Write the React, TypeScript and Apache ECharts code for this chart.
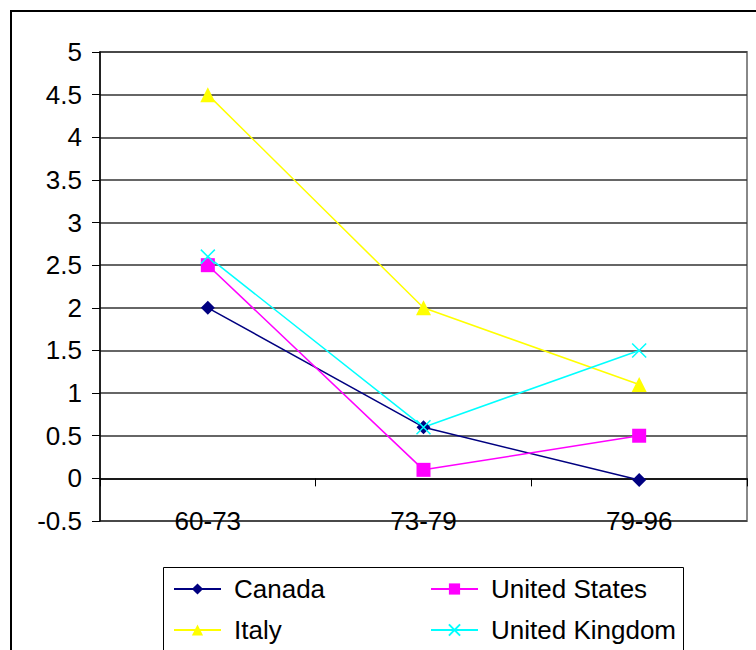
import React, { useEffect, useRef } from "react";
import * as echarts from "echarts";

const periods = ["60-73", "73-79", "79-96"];
const canada = [2.0, 0.6, -0.02];
const unitedStates = [2.5, 0.1, 0.5];
const italy = [4.5, 2.0, 1.1];
const unitedKingdom = [2.6, 0.6, 1.5];

const FONT = "'Liberation Sans', Arial, sans-serif";
const CROSS = "path://M0,0L10,10M10,0L0,10";

export default function App() {
  const ref = useRef<HTMLDivElement>(null);

  useEffect(() => {
    if (!ref.current) return;
    const chart = echarts.init(ref.current, undefined, { renderer: "svg" });

    const lineSeries = (
      name: string,
      data: number[],
      color: string,
      symbol: string,
      symbolSize: number,
      hollow = false
    ) => ({
      name,
      type: "line",
      data,
      xAxisIndex: 0,
      symbol,
      symbolSize,
      lineStyle: { color, width: 1.5 },
      itemStyle: hollow
        ? { color: "none", borderColor: color, borderWidth: 1.5 }
        : { color, borderWidth: 0 },
      emphasis: { disabled: true },
    });

    const legendBase = {
      orient: "vertical",
      top: 576,
      padding: 0,
      height: 72,
      itemWidth: 47,
      itemHeight: 14,
      itemGap: 15,
      textStyle: { fontSize: 26, fontFamily: FONT, color: "#000", padding: [0, 0, 0, 8] },
    };

    chart.setOption({
      animation: false,
      backgroundColor: "#fff",
      textStyle: { fontFamily: FONT, color: "#000" },
      grid: {
        left: 100,
        top: 52,
        right: 9,
        bottom: 129,
        show: true,
        borderColor: "#888",
        borderWidth: 2,
      },
      xAxis: [
        {
          type: "category",
          data: periods,
          position: "bottom",
          boundaryGap: true,
          axisLine: { onZero: true, lineStyle: { color: "#000", width: 1.5 } },
          axisTick: { show: true, length: 8, lineStyle: { color: "#000", width: 1 } },
          axisLabel: { show: false },
          splitLine: { show: false },
        },
        {
          type: "category",
          data: periods,
          position: "bottom",
          boundaryGap: true,
          axisLine: { show: false, onZero: false },
          axisTick: { show: false },
          axisLabel: {
            show: true,
            margin: -13,
            fontSize: 26,
            fontFamily: FONT,
            color: "#000",
          },
          splitLine: { show: false },
        },
      ],
      yAxis: {
        type: "value",
        min: -0.5,
        max: 5,
        interval: 0.5,
        axisLine: { show: true, lineStyle: { color: "#000", width: 1.5 } },
        axisTick: { show: true, length: 8, lineStyle: { color: "#000" } },
        axisLabel: {
          margin: 18,
          fontSize: 26,
          fontFamily: FONT,
          color: "#000",
        },
        splitLine: { show: true, lineStyle: { color: "#333", width: 1.5 } },
      },
      legend: [
        { ...legendBase, left: 173, data: ["Canada", "Italy"] },
        { ...legendBase, left: 430, data: ["United States", "United Kingdom"] },
      ],
      graphic: [
        {
          type: "rect",
          shape: { x: 11, y: 11, width: 800, height: 700 },
          style: { fill: "none", stroke: "#000", lineWidth: 2 },
          silent: true,
        },
        {
          type: "rect",
          shape: { x: 163.5, y: 567.5, width: 520, height: 120 },
          style: { fill: "none", stroke: "#000", lineWidth: 1 },
          silent: true,
        },
      ],
      series: [
        lineSeries("Canada", canada, "#000080", "diamond", 14),
        lineSeries("United States", unitedStates, "#FF00FF", "rect", 14),
        lineSeries("Italy", italy, "#FFFF00", "triangle", 15),
        lineSeries("United Kingdom", unitedKingdom, "#00FFFF", CROSS, 14, true),
      ],
    });

    return () => chart.dispose();
  }, []);

  return (
    <div
      ref={ref}
      style={{ position: "fixed", left: 0, top: 0, width: 756, height: 650 }}
    />
  );
}
